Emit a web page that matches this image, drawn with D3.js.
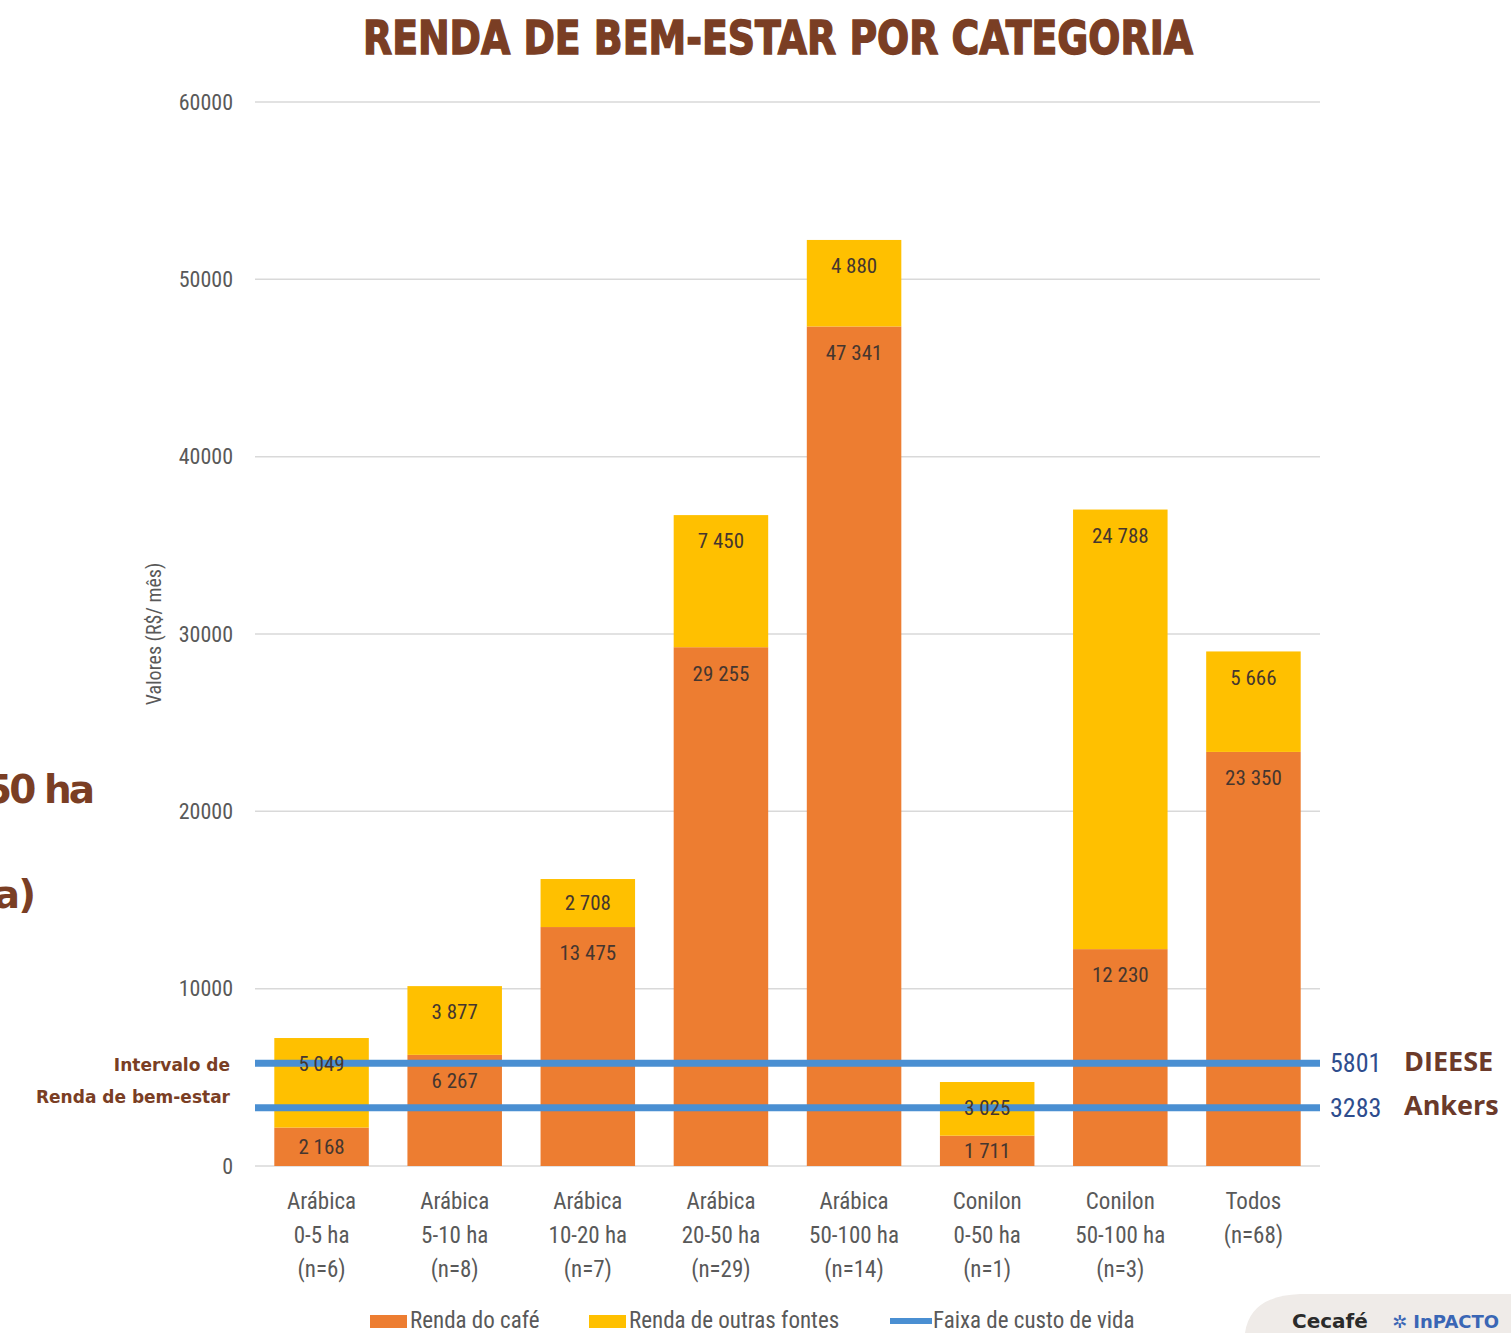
<!DOCTYPE html>
<html>
<head>
<meta charset="utf-8">
<script src="https://cdn.jsdelivr.net/npm/d3@7"></script>
<style>
  body { margin: 0; background: #fff; }
  svg { display: block; }
</style>
</head>
<body>
<script>
// Data
var categories = [
  ["Arábica", "0-5 ha", "(n=6)"],
  ["Arábica", "5-10 ha", "(n=8)"],
  ["Arábica", "10-20 ha", "(n=7)"],
  ["Arábica", "20-50 ha", "(n=29)"],
  ["Arábica", "50-100 ha", "(n=14)"],
  ["Conilon", "0-50 ha", "(n=1)"],
  ["Conilon", "50-100 ha", "(n=3)"],
  ["Todos", "(n=68)"]
];
var rendaCafe = [2168, 6267, 13475, 29255, 47341, 1711, 12230, 23350];
var rendaOutras = [5049, 3877, 2708, 7450, 4880, 3025, 24788, 5666];
var custoVida = [5801, 3283];
var custoNomes = ["DIEESE", "Ankers"];
var yTicks = [0, 10000, 20000, 30000, 40000, 50000, 60000];
var legendItems = ["Renda do café", "Renda de outras fontes", "Faixa de custo de vida"];

var W = 1511, H = 1333;
var margin = {top: 102, right: 191, bottom: 167, left: 255};
var width = W - margin.left - margin.right,
    height = H - margin.top - margin.bottom;

var orange = "#ed7d31", yellow = "#ffc000", blue = "#4a8fd2", brown = "#7a3e24";
var narrow = "'Liberation Sans Narrow', 'Roboto Condensed', 'Open Sans', sans-serif";

var svg = d3.select("body").append("svg")
  .attr("width", W)
  .attr("height", H);

var g = svg.append("g")
  .attr("transform", "translate(" + margin.left + "," + margin.top + ")");

var x = d3.scaleBand()
  .domain(d3.range(categories.length))
  .range([0, width])
  .paddingInner(0.29)
  .paddingOuter(0.145);

var y = d3.scaleLinear()
  .domain([0, 60000])
  .range([height, 0]);

// Gridlines
g.selectAll(".grid")
  .data(yTicks)
  .enter()
  .append("line")
  .attr("x1", 0)
  .attr("x2", width)
  .attr("y1", function(d) { return y(d); })
  .attr("y2", function(d) { return y(d); })
  .attr("stroke", "#d9d9d9")
  .attr("stroke-width", 1.5);

// Y axis
var yAxis = d3.axisLeft(y)
  .tickValues(yTicks)
  .tickSize(0)
  .tickPadding(22)
  .tickFormat(d3.format("d"));

var ya = g.append("g").call(yAxis);
ya.select(".domain").remove();
ya.selectAll("text")
  .attr("font-family", narrow)
  .attr("font-size", 22)
  .attr("fill", "#595959");

// Stacks
var fmt = function(v) { return d3.format(",")(v).replace(/,/g, " "); };

var stack = categories.map(function(c, i) {
  return [
    {i: i, y0: 0, y1: rendaCafe[i], v: rendaCafe[i], color: orange},
    {i: i, y0: rendaCafe[i], y1: rendaCafe[i] + rendaOutras[i], v: rendaOutras[i], color: yellow}
  ];
});
var segs = [].concat.apply([], stack);

g.selectAll(".seg")
  .data(segs)
  .enter()
  .append("rect")
  .attr("x", function(d) { return x(d.i); })
  .attr("width", x.bandwidth())
  .attr("y", function(d) { return y(d.y1); })
  .attr("height", function(d) { return y(d.y0) - y(d.y1); })
  .attr("fill", function(d) { return d.color; });

// Living cost lines
g.selectAll(".custo")
  .data(custoVida)
  .enter()
  .append("line")
  .attr("x1", 0)
  .attr("x2", width)
  .attr("y1", function(d) { return y(d); })
  .attr("y2", function(d) { return y(d); })
  .attr("stroke", blue)
  .attr("stroke-width", 7);

// Value labels
g.selectAll(".vlab")
  .data(segs)
  .enter()
  .append("text")
  .attr("x", function(d) { return x(d.i) + x.bandwidth() / 2; })
  .attr("y", function(d) {
    var h = y(d.y0) - y(d.y1);
    return y(d.y1) + Math.min(26, h / 2);
  })
  .attr("dy", "0.35em")
  .attr("text-anchor", "middle")
  .attr("font-family", narrow)
  .attr("font-size", 21)
  .attr("fill", "#45362f")
  .text(function(d) { return fmt(d.v); });

// X labels
var xl = g.selectAll(".xlab")
  .data(categories)
  .enter()
  .append("text")
  .attr("text-anchor", "middle")
  .attr("font-family", narrow)
  .attr("font-size", 23)
  .attr("fill", "#595959");
xl.selectAll("tspan")
  .data(function(d, i) { return d.map(function(s) { return {s: s, i: i}; }); })
  .enter()
  .append("tspan")
  .attr("x", function(d) { return x(d.i) + x.bandwidth() / 2; })
  .attr("y", function(d, j) { return height + 43 + j * 34; })
  .text(function(d) { return d.s; });

// Right labels for lines
custoVida.forEach(function(v, k) {
  g.append("text")
    .attr("x", width + 10)
    .attr("y", y(v))
    .attr("dy", "0.35em")
    .attr("font-family", narrow)
    .attr("font-size", 26)
    .attr("fill", "#2e4d8e")
    .text(v);
  g.append("text")
    .attr("x", width + 84)
    .attr("y", y(v) - 2)
    .attr("dy", "0.35em")
    .attr("font-family", "'Open Sans', sans-serif")
    .attr("font-weight", "bold")
    .attr("font-size", 27)
    .attr("fill", "#6b3a2a")
    .text(custoNomes[k]);
});

// Left annotation
g.append("text")
  .attr("x", -25)
  .attr("y", y(custoVida[0]) + 2)
  .attr("dy", "0.35em")
  .attr("text-anchor", "end")
  .attr("font-family", "'DejaVu Sans', sans-serif")
  .attr("font-weight", "bold")
  .attr("font-size", 17)
  .attr("fill", brown)
  .text("Intervalo de");
g.append("text")
  .attr("x", -25)
  .attr("y", y(custoVida[1]) - 11)
  .attr("dy", "0.35em")
  .attr("text-anchor", "end")
  .attr("font-family", "'DejaVu Sans', sans-serif")
  .attr("font-weight", "bold")
  .attr("font-size", 17)
  .attr("fill", brown)
  .text("Renda de bem-estar");

// Y axis title
svg.append("text")
  .attr("transform", "translate(161,634) rotate(-90)")
  .attr("text-anchor", "middle")
  .attr("font-family", narrow)
  .attr("font-size", 20)
  .attr("fill", "#595959")
  .text("Valores (R$/ mês)");

// Title
svg.append("text")
  .attr("x", 778)
  .attr("y", 54)
  .attr("text-anchor", "middle")
  .attr("font-family", "'DejaVu Sans', sans-serif")
  .attr("font-weight", "bold")
  .attr("font-size", 46)
  .attr("textLength", 830)
  .attr("lengthAdjust", "spacingAndGlyphs")
  .attr("fill", brown)
  .attr("stroke", brown)
  .attr("stroke-width", 1.5)
  .text("RENDA DE BEM-ESTAR POR CATEGORIA");

// Clipped slide text on the left edge (cut off in the source too)
svg.append("text")
  .attr("x", 92)
  .attr("y", 803)
  .attr("text-anchor", "end")
  .attr("font-family", "'DejaVu Sans', sans-serif")
  .attr("font-weight", "bold")
  .attr("font-size", 39)
  .attr("letter-spacing", -3)
  .attr("fill", brown)
  .text("50 ha");
svg.append("text")
  .attr("x", 34)
  .attr("y", 908)
  .attr("text-anchor", "end")
  .attr("font-family", "'DejaVu Sans', sans-serif")
  .attr("font-weight", "bold")
  .attr("font-size", 39)
  .attr("letter-spacing", -2)
  .attr("fill", brown)
  .text("a)");

// Legend
var legend = svg.append("g").attr("transform", "translate(0,1320)");
var lx = [370, 589, 890];
legendItems.forEach(function(t, k) {
  if (k < 2) {
    legend.append("rect")
      .attr("x", lx[k]).attr("y", -5)
      .attr("width", 37).attr("height", 13)
      .attr("fill", k === 0 ? orange : yellow);
  } else {
    legend.append("line")
      .attr("x1", lx[k]).attr("x2", lx[k] + 42)
      .attr("y1", 1).attr("y2", 1)
      .attr("stroke", blue).attr("stroke-width", 6);
  }
  legend.append("text")
    .attr("x", lx[k] + (k < 2 ? 40 : 43))
    .attr("y", 0)
    .attr("dy", "0.35em")
    .attr("font-family", narrow)
    .attr("font-size", 23)
    .attr("fill", "#595959")
    .text(t);
});

// Logos panel bottom-right
svg.append("path")
  .attr("d", "M1245,1333 Q1250,1296 1300,1294 L1511,1294 L1511,1333 Z")
  .attr("fill", "#efebe8");
svg.append("text")
  .attr("x", 1292).attr("y", 1328)
  .attr("font-family", "'DejaVu Sans', sans-serif")
  .attr("font-weight", "bold")
  .attr("font-size", 20)
  .attr("fill", "#2b2b2b")
  .text("Cecafé");
svg.append("text")
  .attr("x", 1392).attr("y", 1328)
  .attr("font-family", "'DejaVu Sans', sans-serif")
  .attr("font-weight", "bold")
  .attr("font-size", 18)
  .attr("fill", "#3a66b5")
  .text("✲ InPACTO");
</script>
</body>
</html>
